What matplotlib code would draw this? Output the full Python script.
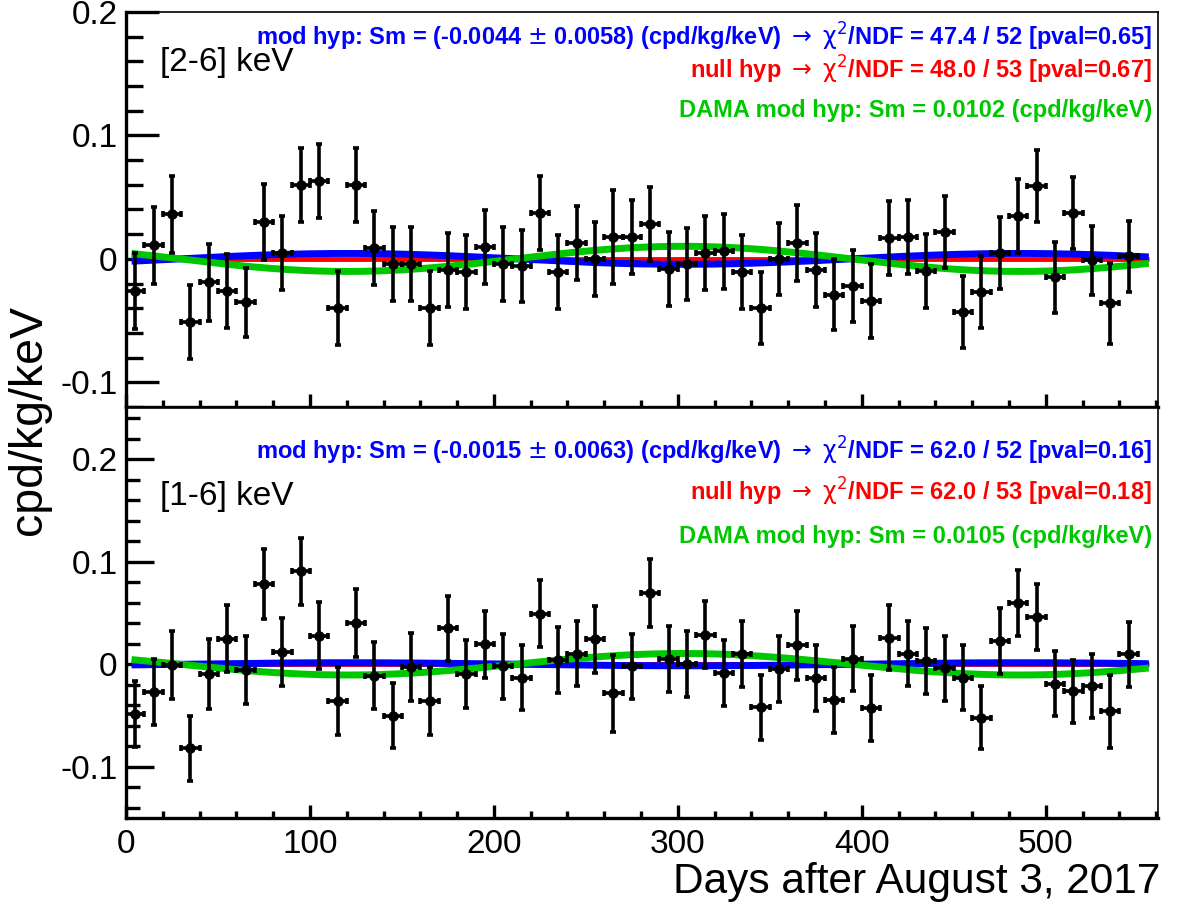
import numpy as np
import matplotlib.pyplot as plt

plt.rcParams['font.family'] = ['Liberation Sans', 'DejaVu Sans']
plt.rcParams['axes.unicode_minus'] = False

# Podaci: dani (centri binova) i rezidualna stopa
days = np.arange(5, 555, 10)

rate_26 = [-0.026, 0.011, 0.036, -0.051, -0.019, -0.026, -0.035, 0.030, 0.005, 0.060,
           0.063, -0.040, 0.060, 0.009, -0.004, -0.004, -0.040, -0.009, -0.011, 0.010,
           -0.004, -0.006, 0.037, -0.011, 0.013, 0.000, 0.018, 0.018, 0.028, -0.008,
           -0.004, 0.005, 0.006, -0.011, -0.040, 0.000, 0.013, -0.009, -0.029, -0.022,
           -0.034, 0.017, 0.018, -0.010, 0.022, -0.043, -0.027, 0.005, 0.035, 0.059,
           -0.015, 0.037, -0.001, -0.036, 0.002]
err_26 = [0.031, 0.031, 0.031, 0.030, 0.031, 0.030, 0.028, 0.031, 0.030, 0.030,
          0.030, 0.030, 0.030, 0.030, 0.030, 0.030, 0.030, 0.030, 0.030, 0.030,
          0.030, 0.029, 0.030, 0.030, 0.030, 0.030, 0.038, 0.030, 0.030, 0.030,
          0.029, 0.030, 0.030, 0.030, 0.029, 0.029, 0.031, 0.030, 0.029, 0.029,
          0.030, 0.030, 0.030, 0.030, 0.029, 0.029, 0.029, 0.029, 0.030, 0.029,
          0.029, 0.029, 0.028, 0.033, 0.029]

rate_16 = [-0.0485, -0.027, -0.001, -0.082, -0.0097, 0.025, -0.0055, 0.078, 0.012, 0.0906,
           0.028, -0.0356, 0.0405, -0.011, -0.050, -0.0026, -0.0356, 0.035, -0.0097, 0.0194,
           -0.002, -0.013, 0.0495, 0.004, 0.0104, 0.0243, -0.0285, -0.002, 0.0696, 0.0049,
           0.000, 0.029, -0.0087, 0.010, -0.042, -0.0045, 0.0184, -0.0136, -0.035, 0.0055,
           -0.0427, 0.026, 0.0104, 0.003, -0.004, -0.013, -0.052, 0.0227, 0.060, 0.0463,
           -0.0188, -0.0265, -0.021, -0.046, 0.0097]
err_16 = [0.032, 0.032, 0.033, 0.032, 0.034, 0.033, 0.033, 0.034, 0.033, 0.033,
          0.033, 0.033, 0.033, 0.033, 0.032, 0.033, 0.033, 0.032, 0.033, 0.033,
          0.032, 0.032, 0.033, 0.032, 0.032, 0.033, 0.038, 0.032, 0.033, 0.032,
          0.032, 0.033, 0.032, 0.032, 0.032, 0.032, 0.034, 0.032, 0.032, 0.032,
          0.032, 0.032, 0.032, 0.032, 0.032, 0.032, 0.031, 0.032, 0.032, 0.032,
          0.032, 0.031, 0.031, 0.036, 0.032]

# Amplitude modulacije (iz fitova) i faza (2. lipnja = dan 303)
sm_fit = [-0.0044, -0.0015]
sm_dama = [0.0102, 0.0105]
t0 = 303.0
period = 365.25

texts = [
    [r"mod hyp: Sm = (-0.0044 $\pm$ 0.0058) (cpd/kg/keV) $\rightarrow$ $\mathrm{\chi}^{2}$/NDF = 47.4 / 52 [pval=0.65]",
     r"null hyp $\rightarrow$ $\mathrm{\chi}^{2}$/NDF = 48.0 / 53 [pval=0.67]",
     "DAMA mod hyp: Sm = 0.0102 (cpd/kg/keV)"],
    [r"mod hyp: Sm = (-0.0015 $\pm$ 0.0063) (cpd/kg/keV) $\rightarrow$ $\mathrm{\chi}^{2}$/NDF = 62.0 / 52 [pval=0.16]",
     r"null hyp $\rightarrow$ $\mathrm{\chi}^{2}$/NDF = 62.0 / 53 [pval=0.18]",
     "DAMA mod hyp: Sm = 0.0105 (cpd/kg/keV)"],
]
labels = ["[2-6] keV", "[1-6] keV"]
ylims = [(-0.12, 0.2), (-0.15, 0.25)]
green = '#00c800'

W, H = 1182, 915
fig = plt.figure(figsize=(W / 100, H / 100), dpi=100)
left, right = 126 / W, 1158 / W
ax1 = fig.add_axes([left, 1 - 407 / H, right - left, (407 - 12) / H])
ax2 = fig.add_axes([left, 1 - 818 / H, right - left, (818 - 408) / H])

t = np.linspace(3, 556, 400)
for i, (ax, rate, err) in enumerate([(ax1, rate_26, err_26), (ax2, rate_16, err_16)]):
    ax.plot(t, np.zeros_like(t), color='red', lw=3.5, solid_capstyle='butt', zorder=2)
    ax.plot(t, sm_fit[i] * np.cos(2 * np.pi * (t - t0) / period), color='blue', lw=5,
            solid_capstyle='butt', zorder=3)
    ax.plot(t, sm_dama[i] * np.cos(2 * np.pi * (t - t0) / period), color=green, lw=5,
            solid_capstyle='butt', zorder=4)
    ax.errorbar(days, rate, yerr=err, xerr=5, fmt='o', color='black', ms=6.5,
                elinewidth=2.6, capsize=2.5, capthick=2.6, zorder=5)
    ax.set_yticks([-0.1, 0, 0.1, 0.2])
    ax.set_yticklabels(['-0.1', '0', '0.1', '0.2'])
    ax.set_yticks(np.arange(-0.14, 0.25, 0.02), minor=True)
    ax.set_xticks(np.arange(0, 561, 100))
    ax.set_xticks(np.arange(0, 561, 20), minor=True)
    ax.set_xlim(0, 561)
    ax.set_ylim(*ylims[i])
    for sp in ax.spines.values():
        sp.set_linewidth(2.4)
    ax.spines['top'].set_linewidth(1.2)
    ax.spines['right'].set_linewidth(1.2)
    ax.tick_params(axis='both', which='both', direction='in', width=2.4,
                   top=False, right=False, labelsize=24)
    ax.tick_params(axis='x', which='major', length=9.5, pad=8)
    ax.tick_params(axis='x', which='minor', length=5)
    ax.tick_params(axis='y', which='major', length=20 + 4 * (i == 0), pad=6)
    ax.tick_params(axis='y', which='minor', length=10 + 2 * (i == 0))

ax1.tick_params(axis='x', labelbottom=False)

# Tekstovi
for i, ys in enumerate([(37, 70, 111), (451, 492, 536)]):
    for txt, col, y in zip(texts[i], ['blue', 'red', green], ys):
        fig.text(1152 / W, 1 - y / H, txt, color=col, fontsize=17, fontweight='bold',
                 ha='right', va='center')
fig.text(160 / W, 1 - 63 / H, labels[0], fontsize=24, ha='left', va='center')
fig.text(160 / W, 1 - 497 / H, labels[1], fontsize=24, ha='left', va='center')

fig.text(29 / W, 1 - 420 / H, "cpd/kg/keV", fontsize=33.5, rotation=90, ha='center', va='center')
fig.text(1160 / W, 1 - 882 / H, "Days after August 3, 2017", fontsize=30.5, ha='right', va='center')

fig.savefig('out.png', dpi=100)
